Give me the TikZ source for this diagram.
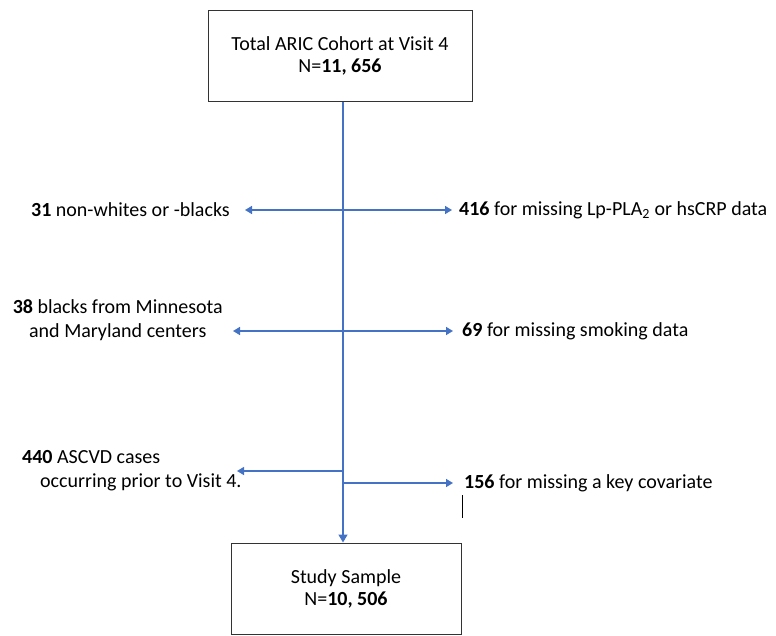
\documentclass[tikz,border=0pt]{standalone}
\usepackage{fontspec}
\setmainfont{Carlito}
\usetikzlibrary{arrows.meta,positioning}
\definecolor{flowBlue}{RGB}{68,114,196}
\tikzset{
myBox/.style={
	rectangle,draw=black!80,line width=1pt,
	minimum width=264pt,minimum height=91pt,
	align=center,inner sep=0pt,
	font=\fontsize{20}{22}\selectfont
}
, myText/.style={
	inner sep=0pt,text=black,
	font=\fontsize{20}{24}\selectfont
}
% link
, myLink/.style={-{Triangle[length=7pt,width=8pt]},draw=flowBlue,line width=1.5pt}
, myTrunk/.style={-{Triangle[length=8pt,width=9pt]},draw=flowBlue,line width=1.5pt}
}

\begin{document}
\begin{tikzpicture}[x=1pt,y=-1pt]
	\useasboundingbox (0,0) rectangle (776,635);
	% nodes
	\node[myBox] (Cohort) at (340,55.5) {Total ARIC Cohort at Visit 4\\N=\textbf{11, 656}};
	\node[myBox,minimum width=230pt] (Sample) at (346,588.5) {Study Sample\\N=\textbf{10, 506}};
	% branch points
	\coordinate (J1) at (343,210);
	\coordinate (J2) at (343,331);
	\coordinate (J3L) at (343,471);
	\coordinate (J3R) at (343,483);
	% arrow ends
	\coordinate (E1L) at (245,210);
	\coordinate (E1R) at (452,210);
	\coordinate (E2L) at (233,331);
	\coordinate (E2R) at (453,331);
	\coordinate (E3L) at (237,471);
	\coordinate (E3R) at (453,483);
	% exclusions
	\node[myText,left=15pt of E1L] (Race) {\textbf{31} non-whites or -blacks};
	\node[myText,right=7pt of E1R] (LpPla) {\textbf{416} for missing Lp-PLA\textsubscript{2} or hsCRP data};
	\node[myText,align=center,left=10pt of E2L,yshift=11pt] (Centers) {\textbf{38} blacks from Minnesota\\and Maryland centers};
	\node[myText,right=9pt of E2R] (Smoking) {\textbf{69} for missing smoking data};
	\node[myText,align=left,anchor=west] (Ascvd) at (22,471) {\textbf{440} ASCVD cases\\\hspace*{18pt}occurring prior to Visit 4.};
	\node[myText,right=11pt of E3R] (Covariate) {\textbf{156} for missing a key covariate};
	% links
	\draw[myTrunk] (Cohort.south -| J1) -- (J1 |- Sample.north);
	\draw[myLink] (J1) -- (E1L);
	\draw[myLink] (J1) -- (E1R);
	\draw[myLink] (J2) -- (E2L);
	\draw[myLink] (J2) -- (E2R);
	\draw[myLink] (J3L) -- (E3L);
	\draw[myLink] (J3R) -- (E3R);
	% stray mark
	\draw[black,line width=1pt] (462,495) -- (462,518);
\end{tikzpicture}
\end{document}
